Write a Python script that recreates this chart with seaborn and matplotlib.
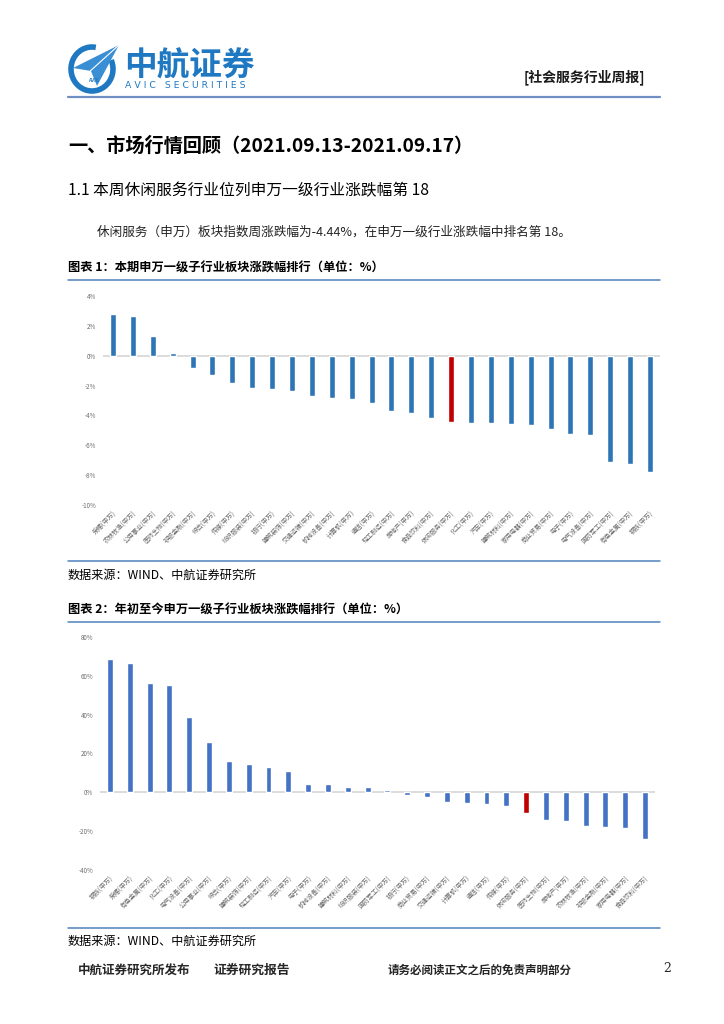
import matplotlib
matplotlib.use('Agg')
import matplotlib.pyplot as plt
import seaborn as sns
import pandas as pd
from matplotlib.patches import Arc, Polygon

W, H = 724, 1024

# 本周涨跌幅 (%)
week_names = ['采掘', '农林牧渔', '公用事业', '医药生物', '非银金融', '综合', '传媒',
              '纺织服装', '银行', '建筑装饰', '交通运输', '机械设备', '计算机', '通信',
              '轻工制造', '房地产', '食品饮料', '休闲服务', '化工', '汽车', '建筑材料',
              '家用电器', '商业贸易', '电子', '电气设备', '国防军工', '有色金属', '钢铁']
week_values = [2.80, 2.64, 1.29, 0.20, -0.82, -1.27, -1.84, -2.16, -2.24, -2.38,
               -2.73, -2.82, -2.87, -3.16, -3.73, -3.84, -4.18, -4.44, -4.49, -4.49,
               -4.58, -4.62, -4.89, -5.27, -5.31, -7.11, -7.27, -7.82]

# 年初至今涨跌幅 (%)
ytd_names = ['钢铁', '采掘', '有色金属', '化工', '电气设备', '公用事业', '综合', '建筑装饰',
             '轻工制造', '汽车', '电子', '机械设备', '建筑材料', '纺织服装', '国防军工', '银行',
             '商业贸易', '交通运输', '计算机', '通信', '传媒', '休闲服务', '医药生物', '房地产',
             '农林牧渔', '非银金融', '家用电器', '食品饮料']
ytd_values = [68.6, 66.6, 56.2, 55.2, 38.6, 25.7, 15.9, 14.8, 12.8, 11.2, 4.5, 4.1,
              2.9, 2.6, 1.4, -1.5, -2.6, -4.8, -5.7, -6.2, -6.9, -10.9, -14.3, -14.7,
              -17.2, -17.8, -18.4, -24.0]

highlight = '休闲服务'

sns.set_style('white')
plt.rcParams['font.family'] = ['Noto Sans CJK SC', 'DejaVu Sans']
plt.rcParams['axes.unicode_minus'] = False

fig = plt.figure(figsize=(W / 100, H / 100), dpi=100)

# 整页用像素坐标的底层坐标轴
page = fig.add_axes([0, 0, 1, 1])
page.set_xlim(0, W)
page.set_ylim(H, 0)
page.axis('off')


def px_box(x0, y0, x1, y1):
    return [x0 / W, 1 - y1 / H, (x1 - x0) / W, (y1 - y0) / H]


# 页眉 logo
blue = '#1E78C2'
page.add_patch(Arc((92, 69), 42, 44, theta1=335, theta2=640, color=blue, lw=4))
page.add_patch(Polygon([(119, 45), (73, 68), (91, 71), (97, 86)], closed=True,
                       color='#3A8FD4', lw=0))
page.plot([119, 88], [45, 73], color='white', lw=0.8)
page.text(93, 80, 'AVIC', fontsize=3.5, color=blue, ha='center', va='center',
          fontweight='bold')
page.text(124, 66, '中航证券', fontsize=23.5, fontweight='bold', color=blue,
          va='center', ha='left')
page.text(125, 86, 'A V I C   S E C U R I T I E S', fontsize=6.7, color=blue,
          va='center', ha='left', family='DejaVu Sans')
page.text(645, 77, '[社会服务行业周报]', fontsize=10, fontweight='bold',
          color='#1a1a1a', va='center', ha='right')
page.plot([68, 660], [97, 97], color='#6f8fc2', lw=1.6)

# 标题与正文
page.text(68, 146, '一、市场行情回顾（2021.09.13-2021.09.17）', fontsize=13.8,
          fontweight='bold', va='center', ha='left', color='black')
page.text(68, 191, '1.1 本周休闲服务行业位列申万一级行业涨跌幅第 18', fontsize=11.3,
          va='center', ha='left', color='black')
page.text(97, 232, '休闲服务（申万）板块指数周涨跌幅为-4.44%，在申万一级行业涨跌幅中排名第 18。',
          fontsize=9.1, va='center', ha='left', color='#222222')

line_c = '#4f81bd'
page.text(68, 268, '图表 1：本期申万一级子行业板块涨跌幅排行（单位：%）', fontsize=8.8,
          fontweight='bold', va='center', ha='left', color='black')
page.plot([68, 660], [280, 280], color=line_c, lw=1.1)
page.plot([68, 660], [561, 561], color=line_c, lw=1.1)
page.text(68, 575, '数据来源：WIND、中航证券研究所', fontsize=8.7, va='center',
          ha='left', color='black')

page.text(68, 610, '图表 2：年初至今申万一级子行业板块涨跌幅排行（单位：%）', fontsize=8.8,
          fontweight='bold', va='center', ha='left', color='black')
page.plot([68, 660], [622, 622], color=line_c, lw=1.1)
page.plot([68, 660], [928, 928], color=line_c, lw=1.1)
page.text(68, 941, '数据来源：WIND、中航证券研究所', fontsize=8.7, va='center',
          ha='left', color='black')

# 页脚
page.text(78, 970, '中航证券研究所发布', fontsize=9, fontweight='bold', va='center', ha='left')
page.text(213, 970, '证券研究报告', fontsize=9.2, fontweight='bold', va='center', ha='left')
page.text(388, 970, '请务必阅读正文之后的免责声明部分', fontsize=8.3, fontweight='bold',
          va='center', ha='left')
page.text(663, 968, '2', fontsize=9, va='center', ha='left', family='DejaVu Serif')


def draw_bars(box, names, values, base_color, ylim, ticks, ticklabels):
    ax = fig.add_axes(px_box(*box))
    labels = [n + '(申万)' for n in names]
    df = pd.DataFrame({'name': labels, 'value': values})
    pal = {l: ('#C00000' if n == highlight else base_color) for l, n in zip(labels, names)}
    ax.axhline(0, color='#D9D9D9', lw=1.3, zorder=0)
    sns.barplot(data=df, x='name', y='value', hue='name', palette=pal, legend=False,
                width=0.3, saturation=1, ax=ax, zorder=2)
    ax.set_xlim(-0.5, len(names) - 0.5)
    ax.set_ylim(*ylim)
    ax.set_yticks(ticks)
    ax.set_yticklabels(ticklabels, fontsize=4.5, color='#6b6b6b')
    ax.set_xticks(range(len(labels)))
    ax.set_xticklabels(labels, rotation=45, ha='right', rotation_mode='anchor',
                       fontsize=4.6, color='#6b6b6b')
    ax.tick_params(axis='y', length=0, pad=5)
    ax.tick_params(axis='x', length=0, pad=3)
    sns.despine(ax=ax, left=True, bottom=True)
    ax.set_xlabel('')
    ax.set_ylabel('')
    ax.patch.set_alpha(0)
    return ax


draw_bars((103, 296, 660, 505), week_names, week_values, '#2E75B6', (-10, 4),
          [4, 2, 0, -2, -4, -6, -8, -10],
          ['4%', '2%', '0%', '-2%', '-4%', '-6%', '-8%', '-10%'])

draw_bars((100, 637, 655, 870), ytd_names, ytd_values, '#4472C4', (-40, 80),
          [80, 60, 40, 20, 0, -20, -40],
          ['80%', '60%', '40%', '20%', '0%', '-20%', '-40%'])

fig.savefig('out.png', dpi=100)
